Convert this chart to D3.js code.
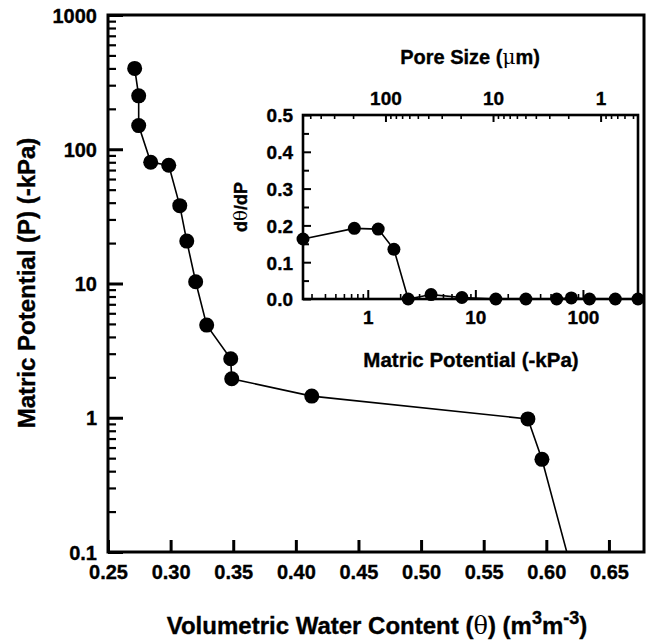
<!DOCTYPE html>
<html>
<head>
<meta charset="utf-8">
<script src="https://cdn.jsdelivr.net/npm/d3@7"></script>
<style>
  body { margin: 0; background: #fff; }
  text { font-family: "Liberation Sans", Arial, sans-serif; font-weight: bold; fill: #000; stroke: #000; stroke-width: 0.35px; }
</style>
</head>
<body>
<div id="vis"></div>
<script>
// main retention curve: water content vs matric potential
let thetaValues = [0.2713, 0.2745, 0.2745, 0.2841, 0.2985, 0.3073, 0.3129, 0.3200, 0.3288, 0.3480, 0.3488, 0.4127, 0.5853, 0.5965, 0.625]
let potentialValues = [400, 250, 150, 80, 76, 38, 20.7, 10.3, 4.9, 2.75, 1.95, 1.45, 0.98, 0.49, 0.05]

// inset: derivative vs matric potential
let insetPotential = [0.25, 0.75, 1.25, 1.75, 2.375, 3.875, 7.5, 15.5, 29.5, 57, 78, 115, 200, 325]
let insetDeriv = [0.163, 0.192, 0.19, 0.135, 0, 0.012, 0.004, 0, 0, 0, 0.003, 0, 0, 0]

let mainXTicks = [0.25, 0.30, 0.35, 0.40, 0.45, 0.50, 0.55, 0.60, 0.65]
let mainYTicks = [0.1, 1, 10, 100, 1000]
let insetYTicks = [0, 0.1, 0.2, 0.3, 0.4, 0.5]
let insetXTicks = [1, 10, 100]
let poreTicks = [100, 10, 1]
let poreConst = 146   // pore size (um) = poreConst / potential

let width = 646, height = 641

let svg = d3.select("#vis")
  .append("svg")
  .attr("width", width)
  .attr("height", height)

// helpers for log minor ticks
function logMinors(lo, hi) {
  let out = []
  for (let e = Math.floor(Math.log10(lo)); e <= Math.ceil(Math.log10(hi)); e++) {
    for (let m = 2; m <= 9; m++) {
      let v = m * Math.pow(10, e)
      if (v > lo && v < hi) out.push(v)
    }
  }
  return out
}

// ---------- main plot ----------
let x = d3.scaleLinear().domain([0.25, 0.678]).range([108, 644])
let y = d3.scaleLog().domain([0.1, 1000]).range([552, 15])

svg.append("defs").append("clipPath").attr("id", "clipMain")
  .append("rect").attr("x", 108).attr("y", 15).attr("width", 536).attr("height", 537)

// y axis major and minor
svg.append("g")
  .attr("transform", "translate(108,0)")
  .call(d3.axisLeft(y).tickValues(mainYTicks).tickSize(-15).tickPadding(11)
    .tickFormat(d => d < 1 ? "0.1" : d3.format("d")(d)))
  .call(g => g.select(".domain").remove())
  .call(g => g.selectAll("line").attr("stroke-width", 3))
  .call(g => g.selectAll("text").style("font-size", "20px").attr("dy", "0.36em"))

svg.append("g")
  .attr("transform", "translate(108,0)")
  .call(d3.axisLeft(y).tickValues(logMinors(0.1, 1000)).tickSize(-8).tickFormat(""))
  .call(g => g.select(".domain").remove())
  .call(g => g.selectAll("line").attr("stroke-width", 2.2))

// x axis
svg.append("g")
  .attr("transform", "translate(0,552)")
  .call(d3.axisBottom(x).tickValues(mainXTicks).tickSize(-12).tickPadding(13)
    .tickFormat(d3.format(".2f")))
  .call(g => g.select(".domain").remove())
  .call(g => g.selectAll("line").attr("stroke-width", 3))
  .call(g => g.selectAll("text").style("font-size", "20px"))

svg.append("rect")
  .attr("x", 108).attr("y", 15).attr("width", 536).attr("height", 537)
  .attr("fill", "none").attr("stroke", "#000").attr("stroke-width", 3)

let mainData = thetaValues.map((t, i) => ({ t: t, p: potentialValues[i] }))

let plot = svg.append("g").attr("clip-path", "url(#clipMain)")

plot.append("path")
  .datum(mainData)
  .attr("fill", "none")
  .attr("stroke", "#000")
  .attr("stroke-width", 1.6)
  .attr("d", d3.line().x(d => x(d.t)).y(d => y(d.p)))

plot.selectAll(".dot")
  .data(mainData)
  .join("circle")
  .attr("cx", d => x(d.t))
  .attr("cy", d => y(d.p))
  .attr("r", 7.5)
  .attr("fill", "#000")

// axis titles
svg.append("text")
  .attr("transform", "translate(35,283) rotate(-90)")
  .attr("text-anchor", "middle")
  .style("font-size", "24px")
  .text("Matric Potential (P) (-kPa)")

let xt = svg.append("text")
  .attr("x", 377).attr("y", 634)
  .attr("text-anchor", "middle")
  .style("font-size", "24px")
xt.append("tspan").text("Volumetric Water Content (")
xt.append("tspan").style("font-weight", "normal").style("stroke-width", "0px").style("font-family", "'DejaVu Serif', serif").text("θ")
xt.append("tspan").text(") (m")
xt.append("tspan").attr("dy", -10).style("font-size", "18px").text("3")
xt.append("tspan").attr("dy", 10).text("m")
xt.append("tspan").attr("dy", -10).style("font-size", "18px").text("-3")
xt.append("tspan").attr("dy", 10).text(")")

// ---------- inset ----------
let ix = d3.scaleLog().domain([0.25, 325]).range([303, 638])
let iy = d3.scaleLinear().domain([0, 0.5]).range([299, 115])
let px = d3.scaleLog().domain([poreConst / 0.25, poreConst / 325]).range([303, 638])

svg.append("rect")
  .attr("x", 303).attr("y", 115).attr("width", 335).attr("height", 184)
  .attr("fill", "#fff")

// left axis
svg.append("g")
  .attr("transform", "translate(303,0)")
  .call(d3.axisLeft(iy).tickValues(insetYTicks).tickSize(-8).tickPadding(10).tickFormat(d3.format(".1f")))
  .call(g => g.select(".domain").remove())
  .call(g => g.selectAll("line").attr("stroke-width", 2))
  .call(g => g.selectAll("text").style("font-size", "19px").attr("dy", "0.36em"))

svg.append("g")
  .attr("transform", "translate(303,0)")
  .call(d3.axisLeft(iy).tickValues(d3.range(0.05, 0.5, 0.1)).tickSize(-6).tickFormat(""))
  .call(g => g.select(".domain").remove())
  .call(g => g.selectAll("line").attr("stroke-width", 2))

// bottom axis
svg.append("g")
  .attr("transform", "translate(0,299)")
  .call(d3.axisBottom(ix).tickValues(insetXTicks).tickSize(-9).tickPadding(12).tickFormat(d3.format("d")))
  .call(g => g.select(".domain").remove())
  .call(g => g.selectAll("line").attr("stroke-width", 2))
  .call(g => g.selectAll("text").style("font-size", "19px"))

svg.append("g")
  .attr("transform", "translate(0,299)")
  .call(d3.axisBottom(ix).tickValues(logMinors(0.25, 325)).tickSize(-5).tickFormat(""))
  .call(g => g.select(".domain").remove())
  .call(g => g.selectAll("line").attr("stroke-width", 1.6))

// top axis (pore size)
svg.append("g")
  .attr("transform", "translate(0,115)")
  .call(d3.axisTop(px).tickValues(poreTicks).tickSize(-7).tickPadding(10).tickFormat(d3.format("d")))
  .call(g => g.select(".domain").remove())
  .call(g => g.selectAll("line").attr("stroke-width", 2))
  .call(g => g.selectAll("text").style("font-size", "19px"))

svg.append("g")
  .attr("transform", "translate(0,115)")
  .call(d3.axisTop(px).tickValues(logMinors(poreConst / 325, poreConst / 0.25)).tickSize(-4).tickFormat(""))
  .call(g => g.select(".domain").remove())
  .call(g => g.selectAll("line").attr("stroke-width", 1.6))

svg.append("rect")
  .attr("x", 303).attr("y", 115).attr("width", 335).attr("height", 184)
  .attr("fill", "none").attr("stroke", "#000").attr("stroke-width", 2.6)

let insetData = insetPotential.map((p, i) => ({ p: p, d: insetDeriv[i] }))

svg.append("path")
  .datum(insetData)
  .attr("fill", "none")
  .attr("stroke", "#000")
  .attr("stroke-width", 1.6)
  .attr("d", d3.line().x(d => ix(d.p)).y(d => iy(d.d)))

svg.selectAll(".idot")
  .data(insetData)
  .join("circle")
  .attr("cx", d => ix(d.p))
  .attr("cy", d => iy(d.d))
  .attr("r", 6.5)
  .attr("fill", "#000")

svg.append("text")
  .attr("x", 471).attr("y", 367)
  .attr("text-anchor", "middle")
  .style("font-size", "20.5px")
  .text("Matric Potential (-kPa)")

let pt = svg.append("text")
  .attr("x", 470).attr("y", 64)
  .attr("text-anchor", "middle")
  .style("font-size", "20px")
pt.append("tspan").text("Pore Size (")
pt.append("tspan").style("font-weight", "normal").style("stroke-width", "0px").style("font-family", "'DejaVu Serif', serif").text("μ")
pt.append("tspan").text("m)")

let dt = svg.append("text")
  .attr("transform", "translate(247,207) rotate(-90)")
  .attr("text-anchor", "middle")
  .style("font-size", "18px")
dt.append("tspan").text("d")
dt.append("tspan").style("font-weight", "normal").style("stroke-width", "0px").style("font-family", "'DejaVu Serif', serif").text("θ")
dt.append("tspan").text("/dP")
</script>
</body>
</html>
